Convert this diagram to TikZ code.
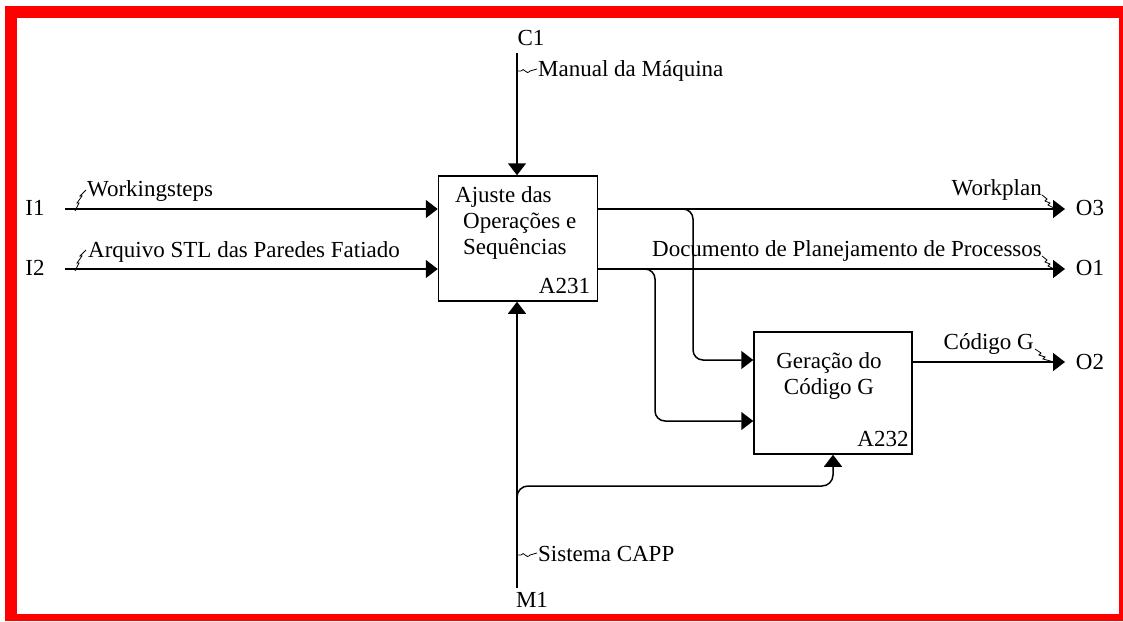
\documentclass[tikz,border=0pt]{standalone}
\usepackage{fontspec}
\setmainfont{Liberation Serif}
\usetikzlibrary{arrows.meta,positioning}
\definecolor{frred}{HTML}{FF0000}
\definecolor{ink}{HTML}{000000}
\tikzset{
  actbox/.style={draw=ink,line width=1.5pt,fill=white,inner sep=0pt},
  flow/.style={-{Triangle[length=12pt,width=18pt]},draw=ink,line width=1.5pt},
  txt/.style={font=\fontsize{23}{26}\selectfont,text=ink,inner sep=0pt},
  squig/.style={draw=ink,line width=.8pt},
}

\begin{document}
\begin{tikzpicture}[x=1pt,y=-1pt]
  \useasboundingbox (0,0) rectangle (1123,621);
  \fill[white] (0,0) rectangle (1123,621);
  \fill[frred] (5,6) rectangle (1123,621);
  \fill[white] (17,18) rectangle (1119,614);
  % activity boxes
  \node[actbox,minimum width=159pt,minimum height=125pt] (a231) at (518,238.5) {};
  \node[txt,align=left,anchor=west] (a231t) at (455,223) {Ajuste das\\[0pt]\hspace*{8pt}Operações e\\[0pt]\hspace*{8pt}Sequências};
  \node[txt,anchor=south east] (a231n) at ([xshift=-8pt,yshift=8pt]a231.south east) {A231};
  \node[actbox,minimum width=158pt,minimum height=122pt] (a232) at (833,393) {};
  \node[txt,align=center] (a232t) at (829,376) {Geração do\\[0pt]Código G};
  \node[txt,anchor=south east] (a232n) at ([xshift=-4pt,yshift=8pt]a232.south east) {A232};
  % boundary labels
  \node[txt] (i1) at (35,208) {I1};
  \node[txt] (i2) at (35,268) {I2};
  \node[txt] (c1) at (531,38) {C1};
  \node[txt] (m1) at (532,600) {M1};
  \node[txt] (o3) at (1090,208) {O3};
  \node[txt] (o1) at (1090,268) {O1};
  \node[txt] (o2) at (1090,362) {O2};
  \coordinate (in1) at (65,209);
  \coordinate (in2) at (65,269);
  \coordinate (ctl) at (517,53);
  \coordinate (mech) at (517,588);
  \coordinate (out3) at (1065,209);
  \coordinate (out1) at (1065,269);
  \coordinate (out2) at (1065,362);
  % arrows
  \draw[flow] (in1) -- (in1 -| a231.west);
  \draw[flow] (in2) -- (in2 -| a231.west);
  \draw[flow] (ctl) -- (ctl |- a231.north);
  \draw[flow] (mech) -- (mech |- a231.south);
  \draw[flow] (out3 -| a231.east) -- (out3);
  \draw[flow] (out1 -| a231.east) -- (out1);
  \draw[flow] (out2 -| a232.east) -- (out2);
  \coordinate (g1) at (a232.west |- 0,360);
  \coordinate (g2) at (a232.west |- 0,421);
  \draw[flow,rounded corners=10pt] (682,209) -| (693,300) |- (g1);
  \draw[flow,rounded corners=10pt] (643,269) -| (655,340) |- (g2);
  \draw[flow,rounded corners=11pt] (517,498) |- (833,486) -- (a232.south);
  % arrow labels
  \node[txt,anchor=west] (lws) at (87,191) {Workingsteps};
  \node[txt,anchor=west] (lstl) at (88,252) {Arquivo STL das Paredes Fatiado};
  \node[txt,anchor=west] (lman) at (538,71) {Manual da Máquina};
  \node[txt,anchor=west] (lcapp) at (538,554) {Sistema CAPP};
  \node[txt,anchor=east] (lwp) at (1042,190) {Workplan};
  \node[txt,anchor=east] (ldoc) at (1042,251) {Documento de Planejamento de Processos};
  \node[txt,anchor=east] (lcg) at (1034,344) {Código G};
  % squiggles
  \draw[squig] (75,211) -- (79,203) -- (77,203) -- (82,196) -- (80,196) -- (86,190);
  \draw[squig] (75,271) -- (79,263) -- (77,263) -- (82,256) -- (80,256) -- (86,250);
  \draw[squig] (517,71) -- (521,71) .. controls (524,66) and (526,76) .. (530,71) -- (537,69);
  \draw[squig] (517,555) -- (521,555) .. controls (524,550) and (526,560) .. (530,555) -- (537,553);
  \draw[squig] (1042,195) -- (1047,199) -- (1045,201) -- (1050,203) -- (1048,205) -- (1054,208);
  \draw[squig] (1042,256) -- (1047,260) -- (1045,262) -- (1050,264) -- (1048,266) -- (1054,269);
  \draw[squig] (1035,349) -- (1041,353) -- (1039,355) -- (1045,357) -- (1043,359) -- (1054,362);
\end{tikzpicture}
\end{document}
